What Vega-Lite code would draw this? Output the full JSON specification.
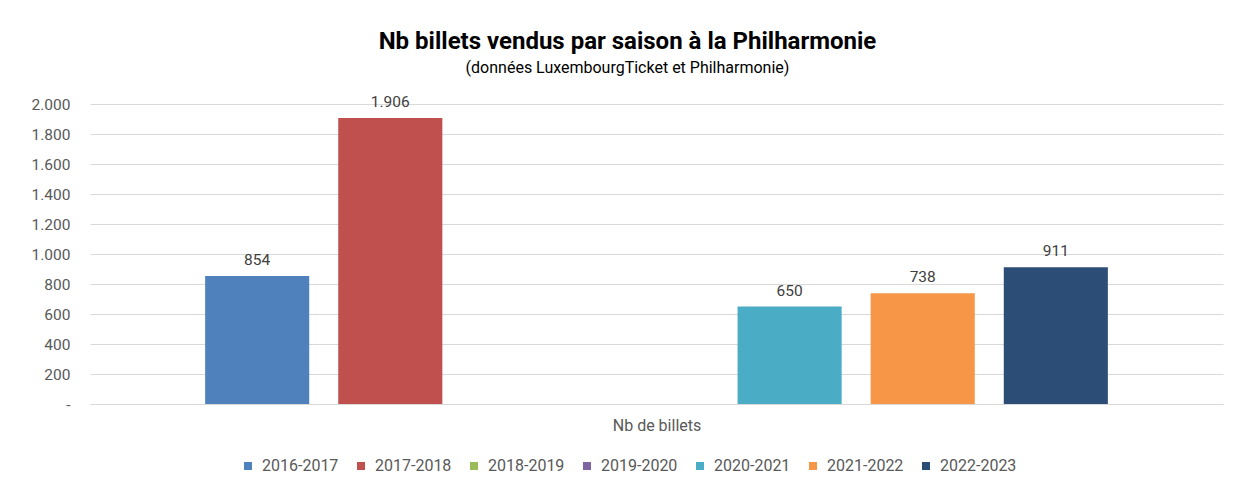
{
  "$schema": "https://vega.github.io/schema/vega-lite/v6.json",
  "autosize": {"type": "none"},
  "width": 1133,
  "height": 300,
  "padding": {"left": 90, "top": 104, "right": 17, "bottom": 81},
  "background": "white",
  "title": {
    "text": "Nb billets vendus par saison à la Philharmonie",
    "subtitle": "(données LuxembourgTicket et Philharmonie)",
    "anchor": "middle",
    "frame": "group",
    "dx": -29,
    "offset": 19,
    "font": "Roboto",
    "fontSize": 24,
    "fontWeight": "bold",
    "color": "#000000",
    "subtitleFont": "Roboto",
    "subtitleFontSize": 16,
    "subtitleColor": "#000000",
    "subtitlePadding": 6
  },
  "data": {
    "values": [
      {"saison": "2016-2017", "billets": 854},
      {"saison": "2017-2018", "billets": 1906},
      {"saison": "2020-2021", "billets": 650},
      {"saison": "2021-2022", "billets": 738},
      {"saison": "2022-2023", "billets": 911}
    ]
  },
  "encoding": {
    "x": {
      "field": "saison",
      "type": "nominal",
      "scale": {
        "domain": ["2016-2017", "2017-2018", "2018-2019", "2019-2020", "2020-2021", "2021-2022", "2022-2023"],
        "paddingInner": 0.218,
        "paddingOuter": 0.865
      },
      "axis": {
        "title": "Nb de billets",
        "labels": false,
        "ticks": false,
        "domain": true,
        "domainColor": "#d9d9d9",
        "titleFont": "Roboto",
        "titleFontSize": 16,
        "titleFontWeight": "normal",
        "titleColor": "#595959",
        "titlePadding": 13
      }
    },
    "y": {
      "field": "billets",
      "type": "quantitative",
      "scale": {"domain": [0, 2000]},
      "axis": {
        "title": null,
        "values": [0, 200, 400, 600, 800, 1000, 1200, 1400, 1600, 1800, 2000],
        "labelExpr": "datum.value == 0 ? '-' : replace(format(datum.value, ','), ',', '.')",
        "domain": false,
        "ticks": false,
        "labelPadding": 20,
        "labelFont": "Roboto",
        "labelFontSize": 15.5,
        "labelColor": "#595959",
        "gridColor": "#d9d9d9",
        "gridWidth": 1
      }
    }
  },
  "layer": [
    {
      "mark": {"type": "bar"},
      "encoding": {
        "color": {
          "field": "saison",
          "type": "nominal",
          "scale": {
            "domain": ["2016-2017", "2017-2018", "2018-2019", "2019-2020", "2020-2021", "2021-2022", "2022-2023"],
            "range": ["#4F81BD", "#C0504D", "#9BBB59", "#8064A2", "#4BACC6", "#F79646", "#2C4D75"]
          },
          "legend": {
            "title": null,
            "orient": "none",
            "direction": "horizontal",
            "columns": 7,
            "legendX": 150,
            "legendY": 354,
            "symbolType": "square",
            "symbolSize": 64,
            "symbolStrokeWidth": 0,
            "symbolOffset": 0,
            "labelOffset": 6,
            "columnPadding": 14,
            "labelFont": "Roboto",
            "labelFontSize": 16,
            "labelColor": "#595959",
            "labelLimit": 200
          }
        }
      }
    },
    {
      "mark": {"type": "text", "baseline": "bottom", "dy": -8, "font": "Roboto", "fontSize": 15.5, "color": "#404040"},
      "encoding": {
        "text": {"field": "billets", "type": "quantitative", "format": ","}
      }
    }
  ],
  "config": {
    "view": {"stroke": null},
    "locale": {"number": {"decimal": ",", "thousands": ".", "grouping": [3], "currency": ["", " €"]}}
  }
}
